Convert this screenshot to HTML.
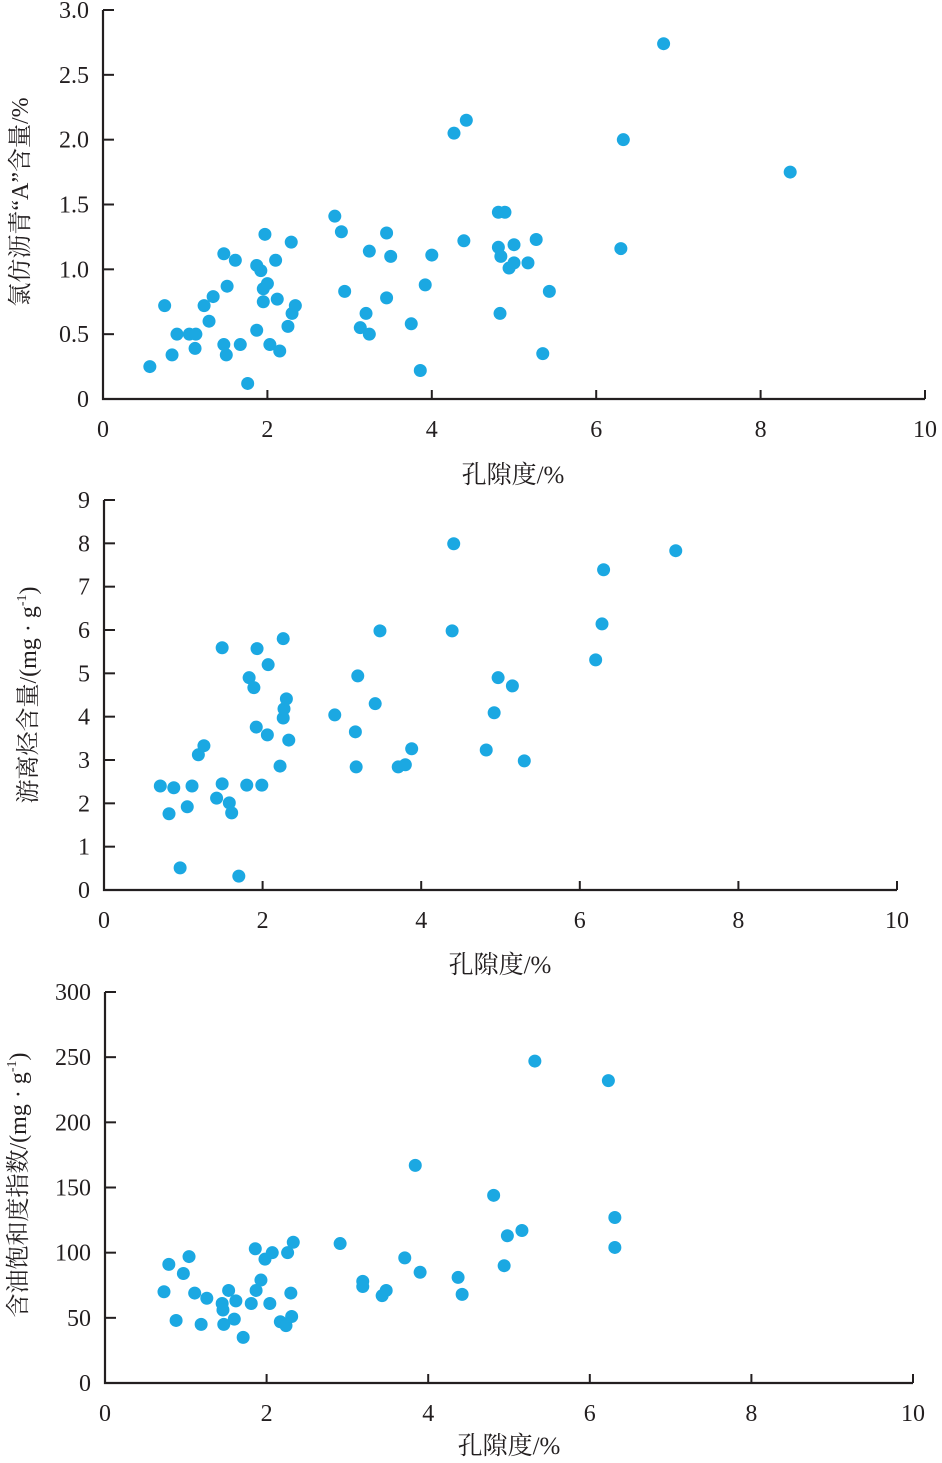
<!DOCTYPE html>
<html><head><meta charset="utf-8"><style>
html,body{margin:0;padding:0;background:#fff;}
svg{display:block;}
text{font-family:"Liberation Serif","Noto Serif CJK SC",serif;fill:#231f20;}
</style></head><body>
<svg id="chart" width="942" height="1463" viewBox="0 0 942 1463" xmlns="http://www.w3.org/2000/svg"></svg>
<script>
// Panel 1: chloroform bitumen "A" vs porosity
const p1Porosity=[0.57,0.75,0.84,0.90,1.05,1.13,1.12,1.23,1.29,1.34,1.47,1.47,1.51,1.50,1.61,1.67,1.76,1.87,1.87,1.92,1.97,1.95,1.95,2.00,2.03,2.10,2.12,2.15,2.25,2.29,2.30,2.34,2.82,2.90,2.94,3.13,3.20,3.24,3.24,3.45,3.45,3.50,3.75,3.86,3.92,4.00,4.27,4.42,4.39,4.81,4.89,4.81,4.84,4.83,4.94,5.00,5.00,5.17,5.27,5.35,5.43,6.30,6.33,6.82,8.36];
const p1Bitumen=[0.25,0.72,0.34,0.50,0.50,0.50,0.39,0.72,0.60,0.79,1.12,0.42,0.87,0.34,1.07,0.42,0.12,0.53,1.03,0.99,1.27,0.85,0.75,0.89,0.42,1.07,0.77,0.37,0.56,1.21,0.66,0.72,1.41,1.29,0.83,0.55,0.66,0.50,1.14,1.28,0.78,1.10,0.58,0.22,0.88,1.11,2.05,2.15,1.22,1.44,1.44,1.17,1.10,0.66,1.01,1.19,1.05,1.05,1.23,0.35,0.83,1.16,2.00,2.74,1.75];
const p1YTicks=["0","0.5","1.0","1.5","2.0","2.5","3.0"];
const p1XTicks=["0","2","4","6","8","10"];
// Panel 2: free hydrocarbon vs porosity
const p2Porosity=[0.71,0.82,0.88,0.96,1.05,1.11,1.19,1.26,1.42,1.49,1.49,1.58,1.61,1.70,1.80,1.83,1.89,1.92,1.93,1.99,2.06,2.07,2.22,2.26,2.26,2.27,2.30,2.33,2.91,3.17,3.18,3.20,3.42,3.48,3.71,3.80,3.88,4.39,4.41,4.82,4.92,4.97,5.15,5.30,6.20,6.28,6.30,7.21];
const p2FreeHC=[2.40,1.76,2.36,0.51,1.92,2.40,3.12,3.33,2.12,5.59,2.45,2.01,1.78,0.32,2.42,4.90,4.67,3.76,5.57,2.42,3.58,5.20,2.86,5.80,3.97,4.18,4.41,3.46,4.04,3.65,2.84,4.94,4.30,5.98,2.84,2.89,3.26,5.98,7.99,3.23,4.09,4.90,4.71,2.98,5.31,6.14,7.39,7.83];
const p2YTicks=["0","1","2","3","4","5","6","7","8","9"];
const p2XTicks=["0","2","4","6","8","10"];
// Panel 3: oil saturation index vs porosity
const p3Porosity=[0.73,0.79,0.88,0.97,1.04,1.11,1.19,1.26,1.45,1.46,1.47,1.53,1.60,1.62,1.71,1.81,1.86,1.87,1.93,1.98,2.04,2.07,2.17,2.24,2.26,2.30,2.31,2.33,2.91,3.19,3.19,3.43,3.48,3.71,3.90,3.84,4.37,4.42,4.81,4.94,4.98,5.16,5.32,6.23,6.31,6.31];
const p3OSI=[70,91,48,84,97,69,45,65,61,56,45,71,49,63,35,61,103,71,79,95,61,100,47,44,100,69,51,108,107,78,74,67,71,96,85,167,81,68,144,90,113,117,247,232,127,104];
const p3YTicks=["0","50","100","150","200","250","300"];
const p3XTicks=["0","2","4","6","8","10"];

const NS="http://www.w3.org/2000/svg";
const svg=document.getElementById('chart');
function mk(tag,attrs,parent){const e=document.createElementNS(NS,tag);for(const k in attrs)e.setAttribute(k,attrs[k]);(parent||svg).appendChild(e);return e;}

function panel(cfg){
  const g=mk('g',{});
  
  
  const yMax=parseFloat(cfg.yTicks[cfg.yTicks.length-1]);
  const xMax=parseFloat(cfg.xTicks[cfg.xTicks.length-1]);
  const sx=v=>cfg.x0+(cfg.x1-cfg.x0)*v/xMax;
  const sy=v=>cfg.y0-(cfg.y0-cfg.y1)*v/yMax;
  const ax=mk('path',{d:`M${cfg.x0},${cfg.y1} V${cfg.y0} H${cfg.x1}`,fill:'none',stroke:'#231f20','stroke-width':2.2},g);
  
  
  cfg.yTicks.forEach(t=>{
    const y=sy(parseFloat(t));
    const tk=mk('line',{x1:cfg.x0,x2:cfg.x0+11,y1:y,y2:y,stroke:'#231f20','stroke-width':2},g);
    
    
    const tx=mk('text',{x:cfg.x0-14,y:y+8,'text-anchor':'end','font-size':24},g);
    tx.textContent=t;
    
    
  });
  cfg.xTicks.forEach(t=>{
    const x=sx(parseFloat(t));
    const tk=mk('line',{x1:x,x2:x,y1:cfg.y0,y2:cfg.y0-9,stroke:'#231f20','stroke-width':2},g);
    
    
    const tx=mk('text',{x:x,y:cfg.y0+38,'text-anchor':'middle','font-size':24},g);
    tx.textContent=t;
    
    
  });
  const xt=mk('text',{x:cfg.xtX,y:cfg.xtY,'text-anchor':'middle','font-size':25},g);
  xt.textContent='孔隙度/%';
  
  
  const yt=mk('text',{x:0,y:0,'text-anchor':'middle','font-size':24,transform:`translate(${cfg.ytX},${cfg.ytY}) rotate(-90)`},g);
  yt.innerHTML=cfg.yTitle;
  
  
  cfg.xs.forEach((v,i)=>{
    const c=mk('circle',{cx:sx(v),cy:sy(cfg.ys[i]),r:6.5,fill:'#1ba8e2'},g);
    
    
  });
}
panel({name:'bitumen-panel',x0:103,x1:925,y0:399,y1:10,xs:p1Porosity,ys:p1Bitumen,yTicks:p1YTicks,xTicks:p1XTicks,xtX:513,xtY:483,ytX:28,ytY:202,yTitle:'氯仿沥青“A”含量/%'});
panel({name:'free-hydrocarbon-panel',x0:104,x1:897,y0:890,y1:500,xs:p2Porosity,ys:p2FreeHC,yTicks:p2YTicks,xTicks:p2XTicks,xtX:500,xtY:973,ytX:36,ytY:695,yTitle:'游离烃含量/(mg · g<tspan font-size="14" dy="-10">-1</tspan><tspan dy="10">)</tspan>'});
panel({name:'oil-saturation-panel',x0:105,x1:913,y0:1383,y1:992,xs:p3Porosity,ys:p3OSI,yTicks:p3YTicks,xTicks:p3XTicks,xtX:509,xtY:1454,ytX:26,ytY:1185,yTitle:'含油饱和度指数/(mg · g<tspan font-size="14" dy="-10">-1</tspan><tspan dy="10">)</tspan>'});
</script>
</body></html>
